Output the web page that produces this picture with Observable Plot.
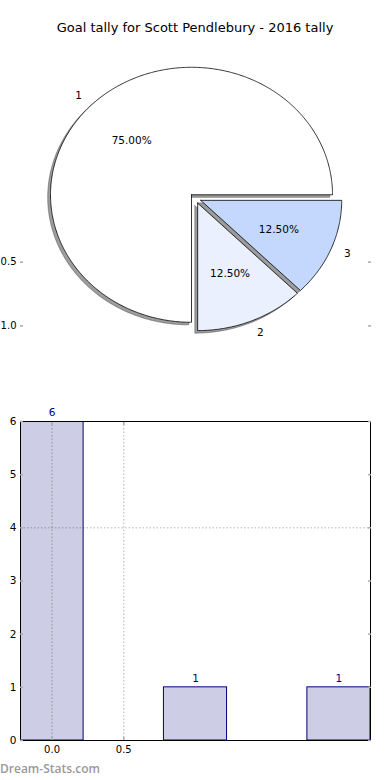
<!DOCTYPE html>
<html><head><meta charset="utf-8">
<script src="https://cdn.jsdelivr.net/npm/d3@7"></script>
<script src="https://cdn.jsdelivr.net/npm/@observablehq/plot@0.6"></script>
<style>
body{margin:0;background:#fff;font-family:"DejaVu Sans",sans-serif;width:390px;overflow:hidden;}
#title{height:40px;box-sizing:border-box;padding-top:20px;text-align:center;font-size:13px;line-height:16px;color:#000;}
#wm{height:25px;box-sizing:border-box;padding-top:6px;font-family:"Open Sans",sans-serif;font-weight:600;font-size:12px;line-height:16px;color:#999;}
svg{display:block;}
</style></head><body>
<div id="title">Goal tally for Scott Pendlebury - 2016 tally</div>
<div id="pie"></div>
<div id="bar"></div>
<div id="wm">Dream-Stats.com</div>
<script>
// ---- data ----
const sliceLabels = ["1", "2", "3"];
const sliceCounts = [6, 1, 1];
const sliceColors = ["#ffffff", "#eaf0fe", "#c4d8fd"];
const pieYTicks = [-0.5, -1.0];
const pieYTickLabels = ["0.5", "1.0"];

const barX = [0, 1, 2];
const barValues = [6, 1, 1];
const barXTicks = [0, 0.5];
const barXTickLabels = ["0.0", "0.5"];
const barYTicks = [0, 1, 2, 3, 4, 5, 6];
const barYTickLabels = ["0", "1", "2", "3", "4", "5", "6"];
const barGridX = [0, 0.5];
const barGridY = [4];

// ---- pie geometry (matplotlib style: counter-clockwise from east) ----
const total = d3.sum(sliceCounts);
const explode = 0.04;
const arcs = d3.pie().sort(null).startAngle(Math.PI / 2).endAngle(Math.PI / 2 - 2 * Math.PI)(sliceCounts);
const wedges = arcs.map((a, i) => {
  const mid = (a.startAngle + a.endAngle) / 2;
  const cx = explode * Math.sin(mid), cy = explode * Math.cos(mid);
  const n = Math.max(4, Math.ceil(Math.abs(a.endAngle - a.startAngle) / (Math.PI / 360)));
  const poly = [{x: cx, y: cy}];
  for (let k = 0; k <= n; k++) {
    const t = a.startAngle + (a.endAngle - a.startAngle) * k / n;
    poly.push({x: cx + Math.sin(t), y: cy + Math.cos(t)});
  }
  poly.push({x: cx, y: cy});
  return {i, label: sliceLabels[i], mid, cx, cy, poly,
    pct: d3.format(".2f")(100 * a.value / total) + "%",
    lx: cx + 1.1 * Math.sin(mid), ly: cy + 1.1 * Math.cos(mid),
    px: cx + 0.6 * Math.sin(mid), py: cy + 0.6 * Math.cos(mid)};
});

const font = {fontFamily: "DejaVu Sans", fontSize: "10px", background: "white", overflow: "visible"};

const pie = Plot.plot({
  width: 390, height: 350,
  marginLeft: 20, marginRight: 20, marginTop: 0, marginBottom: 0,
  style: font,
  x: {domain: [-1.2411, 1.2411], axis: null},
  y: {domain: [-1.5067, 1.2384]},
  marks: [
    ...wedges.map(w => Plot.line(w.poly, {x: d => d.x - 0.02, y: d => d.y - 0.02, fill: "#4d4d4d", fillOpacity: 0.55, stroke: "#333", strokeOpacity: 0.5, strokeWidth: 0.8})),
    ...wedges.map(w => Plot.line(w.poly, {x: "x", y: "y", fill: sliceColors[w.i], stroke: "black", strokeWidth: 0.8, strokeLinejoin: "miter"})),
    Plot.text(wedges.filter(w => w.lx < 0), {x: "lx", y: "ly", text: "label", textAnchor: "end", fontSize: 10.5, fill: "black"}),
    Plot.text(wedges.filter(w => w.lx >= 0), {x: "lx", y: "ly", text: "label", textAnchor: "start", fontSize: 10.5, fill: "black"}),
    Plot.text(wedges, {x: "px", y: "py", text: "pct", fontSize: 10.5, fill: "black"}),
    Plot.axisY(pieYTicks, {anchor: "left", tickSize: -3, tickPadding: 7, stroke: "#aaa", strokeWidth: 1.5, fill: "black", fontSize: 10, label: null,
      tickFormat: d => pieYTickLabels[pieYTicks.indexOf(d)]}),
    Plot.axisY(pieYTicks, {anchor: "right", tickSize: -3, stroke: "#aaa", strokeWidth: 1.5, fill: "none", label: null})
  ]
});
document.getElementById("pie").append(pie);

// ---- bar chart ----
const bars = barX.map((x, i) => ({x, v: barValues[i]}));
const halfW = 0.22;
const bar = Plot.plot({
  width: 390, height: 365,
  marginLeft: 20, marginRight: 20, marginTop: 31, marginBottom: 15,
  style: font,
  x: {domain: [-0.22, 2.22]},
  y: {domain: [0, 6]},
  marks: [
    Plot.rectY(bars, {x1: d => d.x - halfW, x2: d => d.x + halfW, y1: 0, y2: "v", fill: "#cdcde5", stroke: "#000080", strokeWidth: 1, clip: true}),
    Plot.ruleX(barGridX, {stroke: "#000", strokeOpacity: 0.3, strokeWidth: 1, strokeDasharray: "1.5,2"}),
    Plot.ruleY(barGridY, {stroke: "#000", strokeOpacity: 0.3, strokeWidth: 1, strokeDasharray: "1.5,2"}),
    Plot.text(bars, {x: "x", y: "v", text: d => String(d.v), dy: -9, fill: "#000080", fontSize: 10.5}),
    Plot.frame({stroke: "black", strokeWidth: 1}),
    Plot.axisY(barYTicks, {anchor: "left", tickSize: -3, tickPadding: 7, stroke: "#aaa", strokeWidth: 1.5, fill: "black", fontSize: 10.5, label: null,
      tickFormat: d => barYTickLabels[barYTicks.indexOf(d)]}),
    Plot.axisY(barYTicks, {anchor: "right", tickSize: -3, stroke: "#aaa", strokeWidth: 1.5, fill: "none", label: null}),
    Plot.axisX(barXTicks, {anchor: "bottom", tickSize: -3, tickPadding: 8, stroke: "#aaa", strokeWidth: 1.5, fill: "black", fontSize: 10, label: null,
      tickFormat: d => barXTickLabels[barXTicks.indexOf(d)]}),
    Plot.axisX(barXTicks, {anchor: "top", tickSize: -3, stroke: "#aaa", strokeWidth: 1.5, fill: "none", label: null})
  ]
});
document.getElementById("bar").append(bar);
</script>
</body></html>
